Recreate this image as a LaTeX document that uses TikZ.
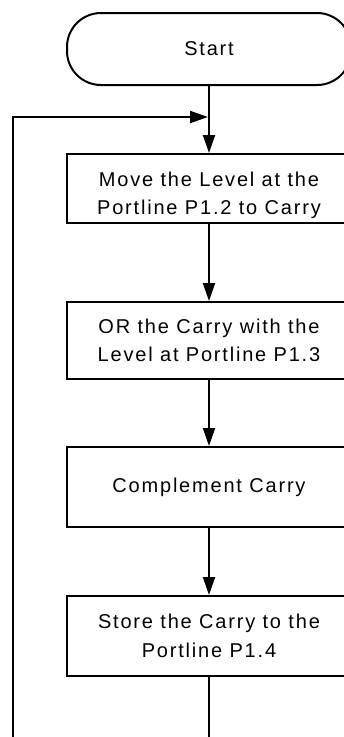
\documentclass[tikz,border=0pt]{standalone}
\usepackage{fontspec}
\setmainfont{Liberation Sans}[LetterSpace=9]
\usetikzlibrary{arrows.meta}
\tikzset{
  flow/.style={line width=2pt, draw=black},
  boxtext/.style={align=center, inner sep=0pt, font=\fontsize{20pt}{28.5pt}\selectfont},
  stepbox/.style={flow, rectangle, minimum width=284pt, boxtext},
  terminal/.style={stepbox, rounded corners=34pt, minimum height=72pt},
  arr/.style={flow, -{Triangle[length=18pt, width=12pt]}},
}
\begin{document}
\begin{tikzpicture}[x=1pt, y=-1pt]
  \path[use as bounding box, clip] (0,0) rectangle (344,737);

  \node[terminal] (start) at (209,49) {Start};
  \node[stepbox, minimum height=69pt] (b1) at (209,188.5) {};
  \node[boxtext] (t1) at ([yshift=-7pt]b1.center)
    {Move the Level at the\\Portline P1.2 to Carry};
  \node[stepbox, minimum height=77pt] (b2) at (209,340.5)
    {OR the Carry with the\\Level at Portline P1.3};
  \node[stepbox, minimum height=80pt] (b3) at (209,487)
    {Complement Carry};
  \node[stepbox, minimum height=80pt] (b4) at (209,636)
    {Store the Carry to the\\Portline P1.4};

  \coordinate (join) at (208,117);
  \coordinate (bot) at (209,760);
  \coordinate (botL) at (13,760);

  \draw[arr] (start.south) -- (b1.north);
  \draw[arr] (b1.south) -- (b2.north);
  \draw[arr] (b2.south) -- (b3.north);
  \draw[arr] (b3.south) -- (b4.north);
  % loop back from the last step to the top
  \draw[arr] (b4.south) -- (bot) -- (botL) |- (join);
\end{tikzpicture}
\end{document}
